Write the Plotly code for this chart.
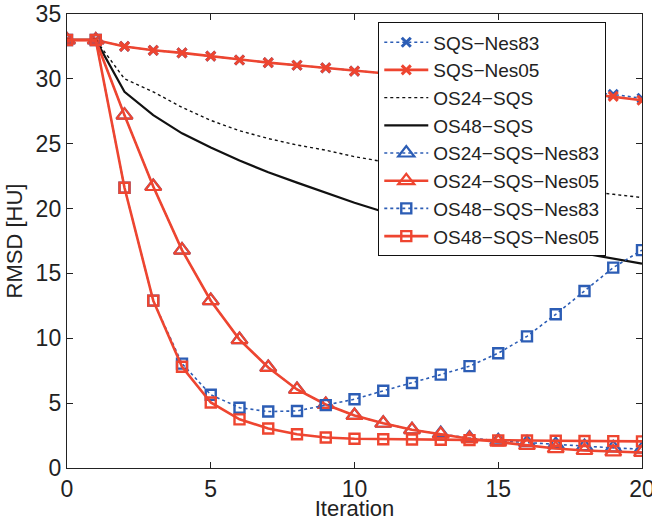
import plotly.graph_objects as go

iterations = list(range(21))

sqs_nes83 = [33.0, 33.0, 32.5, 32.2, 32.0, 31.75, 31.45, 31.25, 31.05, 30.85, 30.6,
             30.4, 30.2, 30.0, 29.8, 29.6, 29.4, 29.2, 29.0, 28.8, 28.5]
sqs_nes05 = [33.0, 33.0, 32.5, 32.2, 32.0, 31.75, 31.45, 31.25, 31.05, 30.85, 30.6,
             30.4, 30.2, 30.0, 29.8, 29.6, 29.4, 29.15, 28.9, 28.65, 28.35]
os24_sqs = [33.0, 33.0, 30.0, 29.0, 27.8, 26.8, 26.0, 25.4, 24.9, 24.5, 24.0,
            23.6, 23.2, 22.85, 22.5, 22.2, 21.9, 21.6, 21.35, 21.1, 20.85]
os48_sqs = [33.0, 33.0, 29.0, 27.2, 25.8, 24.7, 23.7, 22.8, 22.0, 21.2, 20.45,
            19.75, 19.15, 18.6, 18.1, 17.7, 17.35, 16.95, 16.55, 16.15, 15.75]
os24_sqs_nes83 = [33.0, 33.0, 27.2, 21.7, 16.8, 12.9, 9.9, 7.75, 6.05, 4.9, 4.05,
                  3.45, 2.95, 2.65, 2.3, 2.1, 1.95, 1.8, 1.65, 1.55, 1.45]
os24_sqs_nes05 = [33.0, 33.0, 27.2, 21.7, 16.8, 12.9, 9.9, 7.75, 6.05, 4.9, 4.05,
                  3.45, 2.95, 2.6, 2.25, 2.0, 1.75, 1.5, 1.35, 1.25, 1.2]
os48_sqs_nes83 = [33.0, 33.0, 21.6, 12.9, 8.05, 5.65, 4.65, 4.35, 4.4, 4.85, 5.3,
                  5.95, 6.55, 7.2, 7.85, 8.85, 10.15, 11.85, 13.65, 15.45, 16.8]
os48_sqs_nes05 = [33.0, 33.0, 21.6, 12.9, 7.8, 5.05, 3.75, 3.05, 2.6, 2.35, 2.25,
                  2.22, 2.2, 2.18, 2.15, 2.13, 2.12, 2.1, 2.08, 2.07, 2.05]

series_names = ["SQS\u2212Nes83", "SQS\u2212Nes05", "OS24\u2212SQS", "OS48\u2212SQS",
                "OS24\u2212SQS\u2212Nes83", "OS24\u2212SQS\u2212Nes05",
                "OS48\u2212SQS\u2212Nes83", "OS48\u2212SQS\u2212Nes05"]
x_ticks = [0, 5, 10, 15, 20]
y_ticks = [0, 5, 10, 15, 20, 25, 30, 35]

RED = "#EE4530"
BLUE = "#2C5DB5"
BLACK = "#111111"
FONT = "Liberation Sans, Arial, sans-serif"

styles = [
    dict(color=BLUE, dash="dot", width=1.6, symbol="x-thin", size=9, mlw=3),
    dict(color=RED, dash="solid", width=2.6, symbol="x-thin", size=9, mlw=3),
    dict(color=BLACK, dash="dot", width=1.4, symbol=None),
    dict(color=BLACK, dash="solid", width=2.2, symbol=None),
    dict(color=BLUE, dash="dot", width=1.6, symbol="triangle-up-open", size=14, mlw=2.2),
    dict(color=RED, dash="solid", width=2.6, symbol="triangle-up-open", size=14, mlw=2.2),
    dict(color=BLUE, dash="dot", width=1.6, symbol="square-open", size=10, mlw=2.4),
    dict(color=RED, dash="solid", width=2.6, symbol="square-open", size=10, mlw=2.4),
]

all_series = [sqs_nes83, sqs_nes05, os24_sqs, os48_sqs,
              os24_sqs_nes83, os24_sqs_nes05, os48_sqs_nes83, os48_sqs_nes05]

fig = go.Figure()
for name, ys, st in zip(series_names, all_series, styles):
    if st["symbol"] is None:
        fig.add_trace(go.Scatter(x=iterations, y=ys, name=name, mode="lines",
                                 line=dict(color=st["color"], dash=st["dash"], width=st["width"])))
    else:
        fig.add_trace(go.Scatter(
            x=iterations, y=ys, name=name, mode="lines+markers",
            line=dict(color=st["color"], dash=st["dash"], width=st["width"]),
            marker=dict(symbol=st["symbol"], size=st["size"], color=st["color"],
                        line=dict(color=st["color"], width=st["mlw"]))))

axis_common = dict(
    showline=True, linecolor="#222222", linewidth=1.2, mirror="ticks",
    ticks="inside", ticklen=6, tickcolor="#222222", tickwidth=1,
    showgrid=False, zeroline=False, automargin=False,
    ticklabeloverflow="allow",
    tickfont=dict(family=FONT, size=23, color="#222222"),
)

fig.update_layout(
    width=652, height=521,
    margin=dict(l=67, r=10, t=14, b=53),
    paper_bgcolor="white", plot_bgcolor="white",
    font=dict(family=FONT, size=22, color="#222222"),
    xaxis=dict(range=[0, 20], tickvals=x_ticks,
               title=dict(text="Iteration", standoff=4,
                          font=dict(size=22)), **axis_common),
    yaxis=dict(range=[0, 35], tickvals=y_ticks,
               title=dict(text="RMSD [HU]", standoff=7,
                          font=dict(size=22)), **axis_common),
    legend=dict(x=0.541, y=0.982, xanchor="left", yanchor="top",
                bgcolor="white", bordercolor="#111111", borderwidth=1.2,
                font=dict(size=19, color="#222222"), itemwidth=44,
                entrywidth=200, entrywidthmode="pixels",
                tracegroupgap=0),
    showlegend=True,
)

fig.write_html("out.html", config={"displayModeBar": False, "staticPlot": True},
               post_script="document.body.style.margin='0';document.body.style.overflow='hidden';")
